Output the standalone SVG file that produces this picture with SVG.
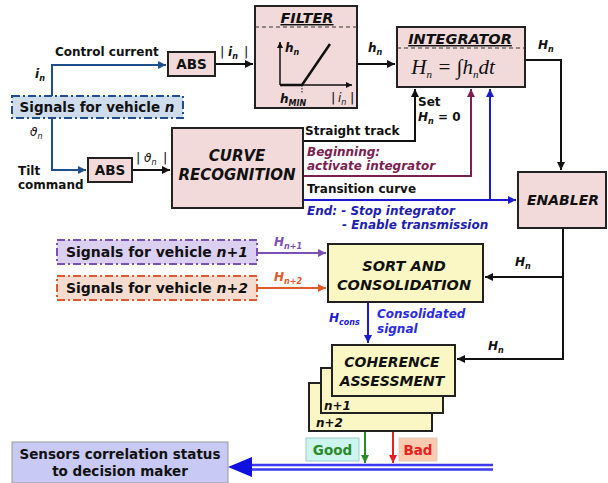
<svg xmlns="http://www.w3.org/2000/svg" width="608" height="483" viewBox="0 0 608 483">
<defs>
<marker id="ak" viewBox="0 0 10 10" refX="10" refY="5" markerWidth="4" markerHeight="4" orient="auto"><path d="M0,0 L10,5 L0,10 z" fill="#111"/></marker>
<marker id="ab" viewBox="0 0 10 10" refX="10" refY="5" markerWidth="4" markerHeight="4" orient="auto"><path d="M0,0 L10,5 L0,10 z" fill="#1f4e8c"/></marker>
<marker id="abl" viewBox="0 0 10 10" refX="10" refY="5" markerWidth="4" markerHeight="4" orient="auto"><path d="M0,0 L10,5 L0,10 z" fill="#1a1ad0"/></marker>
<marker id="am" viewBox="0 0 10 10" refX="10" refY="5" markerWidth="4" markerHeight="4" orient="auto"><path d="M0,0 L10,5 L0,10 z" fill="#7b2050"/></marker>
<marker id="ap" viewBox="0 0 10 10" refX="10" refY="5" markerWidth="4" markerHeight="4" orient="auto"><path d="M0,0 L10,5 L0,10 z" fill="#7d4fb5"/></marker>
<marker id="ao" viewBox="0 0 10 10" refX="10" refY="5" markerWidth="4" markerHeight="4" orient="auto"><path d="M0,0 L10,5 L0,10 z" fill="#e05a28"/></marker>
<marker id="ag" viewBox="0 0 10 10" refX="10" refY="5" markerWidth="4" markerHeight="4" orient="auto"><path d="M0,0 L10,5 L0,10 z" fill="#2a8a2a"/></marker>
<marker id="ar" viewBox="0 0 10 10" refX="10" refY="5" markerWidth="4" markerHeight="4" orient="auto"><path d="M0,0 L10,5 L0,10 z" fill="#e82020"/></marker>
</defs>
<style>
text{font-family:"DejaVu Sans",Verdana,sans-serif;font-weight:bold;fill:#111}
.t{font-size:12px}
.s{font-size:13.5px}
.h{font-size:14.5px;font-style:italic;text-anchor:middle}
.it{font-style:italic}
.c{text-anchor:middle}
.box{fill:#f2dada;stroke:#222;stroke-width:2}
.ybox{fill:#fbf7c4;stroke:#222;stroke-width:2}
.ln{fill:none;stroke:#111;stroke-width:2}
.sub{font-size:8px}
.bar{font-weight:normal;font-size:13px}
</style>
<rect width="608" height="483" fill="#fff"/>

<g id="connectors">
<path class="ln" d="M52,96 V65 H166" style="stroke:#1f4e8c" marker-end="url(#ab)"/>
<path class="ln" d="M52,118 V170 H86" style="stroke:#1f4e8c" marker-end="url(#ab)"/>
<path class="ln" d="M215,64 H253" marker-end="url(#ak)"/>
<path class="ln" d="M357,64 H395" marker-end="url(#ak)"/>
<path class="ln" d="M132,170 H170" marker-end="url(#ak)"/>
<path class="ln" d="M525,60 H561 V170" marker-end="url(#ak)"/>
<path class="ln" d="M303,141 H415 V89" marker-end="url(#ak)"/>
<path class="ln" d="M303,176 H471 V89" style="stroke:#7b2050" marker-end="url(#am)"/>
<path class="ln" d="M303,200 H516" style="stroke:#1a1ad0" marker-end="url(#abl)"/>
<path class="ln" d="M490,200 V89" style="stroke:#1a1ad0" marker-end="url(#abl)"/>
<path class="ln" d="M563,228 V359 H457" marker-end="url(#ak)"/>
<path class="ln" d="M563,277 H485" marker-end="url(#ak)"/>
<path class="ln" d="M257,253 H326" style="stroke:#7d4fb5" marker-end="url(#ap)"/>
<path class="ln" d="M257,288 H326" style="stroke:#e05a28" marker-end="url(#ao)"/>
<path class="ln" d="M368,302 V343" style="stroke:#1a1ad0" marker-end="url(#abl)"/>
<path class="ln" d="M365,396 V463" style="stroke:#2a8a2a" marker-end="url(#ag)"/>
<path class="ln" d="M393,396 V463" style="stroke:#e82020" marker-end="url(#ar)"/>
<path d="M248,465 H493 M248,469.5 H493" fill="none" stroke="#3a3af0" stroke-width="2.5"/>
<path d="M228,467 L252,457 L252,477 z" fill="#1010e0"/>
</g>

<g id="sig-n">
<rect x="12" y="96" width="171" height="22" fill="#cfdcec" stroke="#1f4e8c" stroke-width="2" stroke-dasharray="8,3,2,3"/>
<text class="s c" x="97" y="112">Signals for vehicle <tspan class="it">n</tspan></text>
</g>
<g id="lbl-top">
<text class="t" x="55" y="56">Control current</text>
<text class="t it" x="35" y="78">i<tspan class="sub" dy="3">n</tspan></text>
<text class="t it" x="30" y="136" style="font-weight:normal">ϑ<tspan class="sub" dy="3">n</tspan></text>
<text class="t" x="18" y="175">Tilt</text>
<text class="t" x="18" y="189">command</text>
<text class="bar" x="220" y="56">|</text><text class="t it" x="228" y="56">i<tspan class="sub" dy="3">n</tspan></text><text class="bar" x="244" y="56">|</text>
<text class="bar" x="136" y="162">|</text><text class="t it" x="144" y="162" style="font-weight:normal">ϑ<tspan class="sub" dy="3">n</tspan></text><text class="bar" x="163" y="162">|</text>
<text class="t it" x="368" y="52">h<tspan class="sub" dy="3">n</tspan></text>
<text class="t it" x="538" y="49">H<tspan class="sub" dy="3">n</tspan></text>
</g>
<g id="abs1"><rect class="box" x="168" y="52" width="47" height="24"/><text class="s c" x="191.5" y="69">ABS</text></g>
<g id="abs2"><rect class="box" x="88" y="158" width="44" height="24"/><text class="s c" x="110" y="175">ABS</text></g>

<g id="filter">
<rect class="box" x="255" y="6" width="102" height="102"/>
<line x1="255" y1="27" x2="357" y2="27" stroke="#333" stroke-width="1.2" stroke-dasharray="4,3"/>
<text class="h" x="307" y="23" text-decoration="underline">FILTER</text>
<path d="M280,85 V42" fill="none" stroke="#111" stroke-width="1.5" marker-end="url(#ak)"/>
<path d="M280,85 H352" fill="none" stroke="#111" stroke-width="1.5" marker-end="url(#ak)"/>
<path d="M280,85 H302 L330,44" fill="none" stroke="#111" stroke-width="2.5"/>
<line x1="302" y1="85" x2="302" y2="93" stroke="#111" stroke-width="1" stroke-dasharray="1.5,1.5"/>
<text class="t it" x="285" y="52">h<tspan class="sub" dy="3">n</tspan></text>
<text class="t it" x="280" y="103">h<tspan class="sub" dy="3">MIN</tspan></text>
<text class="bar" x="331" y="102">|</text><text class="t it" x="338" y="102" style="font-weight:normal">i<tspan class="sub" dy="3">n</tspan></text><text class="bar" x="350" y="102">|</text>
</g>

<g id="integrator">
<rect class="box" x="397" y="27" width="128" height="60"/>
<line x1="397" y1="48" x2="525" y2="48" stroke="#333" stroke-width="1.2" stroke-dasharray="4,3"/>
<text class="h" x="460" y="44" text-decoration="underline">INTEGRATOR</text>
<text x="453" y="74" text-anchor="middle" style="font-family:'Liberation Serif','DejaVu Serif',serif;font-weight:normal;font-style:italic;font-size:21px">H<tspan font-size="11" dy="4">n</tspan><tspan dy="-4"> = ∫</tspan><tspan>h</tspan><tspan font-size="11" dy="4">n</tspan><tspan dy="-4">d</tspan><tspan>t</tspan></text>
</g>

<g id="curve">
<rect class="box" x="172" y="128" width="131" height="80"/>
<text class="h" x="237" y="161" style="font-size:15px">CURVE</text>
<text class="h" x="237" y="180" style="font-size:15px">RECOGNITION</text>
</g>
<g id="curve-labels">
<text class="t" x="305" y="135">Straight track</text>
<text class="t" x="418" y="106">Set</text>
<text class="t" x="418" y="121"><tspan class="it">H</tspan><tspan class="sub it" dy="3">n</tspan><tspan dy="-3"> = 0</tspan></text>
<text class="t it" x="307" y="156" style="fill:#7b2050">Beginning:</text>
<text class="t it" x="307" y="170" style="fill:#7b2050">activate integrator</text>
<text class="t" x="307" y="193">Transition curve</text>
<text class="t it" x="307" y="215" style="fill:#2020b0">End:  - Stop integrator</text>
<text class="t it" x="342" y="229" style="fill:#2020b0">- Enable transmission</text>
</g>

<g id="enabler"><rect class="box" x="518" y="172" width="88" height="56"/><text class="h" x="563" y="205" style="font-size:14px">ENABLER</text></g>

<g id="sig-n1">
<rect x="57" y="240" width="200" height="24" fill="#dcd0f2" stroke="#7d4fb5" stroke-width="2" stroke-dasharray="8,3,2,3"/>
<text class="c" x="157" y="257" style="font-size:14px">Signals for vehicle <tspan class="it">n+1</tspan></text>
</g>
<g id="sig-n2">
<rect x="57" y="276" width="200" height="24" fill="#f6dccf" stroke="#e05a28" stroke-width="2" stroke-dasharray="8,3,2,3"/>
<text class="c" x="157" y="293" style="font-size:14px">Signals for vehicle <tspan class="it">n+2</tspan></text>
</g>
<g id="lbl-mid">
<text class="t it" x="274" y="246" style="fill:#7d4fb5">H<tspan class="sub" dy="3">n+1</tspan></text>
<text class="t it" x="274" y="281" style="fill:#e05a28">H<tspan class="sub" dy="3">n+2</tspan></text>
<text class="t it" x="515" y="266">H<tspan class="sub" dy="3">n</tspan></text>
<text class="t it" x="488" y="350">H<tspan class="sub" dy="3">n</tspan></text>
<text class="t it" x="329" y="322" style="fill:#2020d0">H<tspan class="sub" dy="3">cons</tspan></text>
<text class="t it" x="377" y="318" style="fill:#2a2ae0">Consolidated</text>
<text class="t it" x="377" y="333" style="fill:#2a2ae0">signal</text>
</g>

<g id="sort"><rect class="ybox" x="328" y="244" width="155" height="58"/>
<text class="h" x="404" y="271">SORT AND</text>
<text class="h" x="404" y="290">CONSOLIDATION</text></g>

<g id="coherence">
<rect class="ybox" x="309" y="383" width="123" height="48"/>
<rect class="ybox" x="321" y="368" width="122" height="45"/>
<rect class="ybox" x="332" y="345" width="123" height="51"/>
<text class="h" x="392" y="367" style="font-size:14px">COHERENCE</text>
<text class="h" x="392" y="386" style="font-size:14px">ASSESSMENT</text>
<text class="t it" x="324" y="410">n+1</text>
<text class="t it" x="316" y="427">n+2</text>
</g>

<g id="good"><rect x="306" y="438" width="53" height="23" fill="#cdf5ee" stroke="#9cc" stroke-width="1"/><text class="s c" x="332.5" y="455" style="fill:#2a8a2a">Good</text></g>
<g id="bad"><rect x="399" y="438" width="38" height="23" fill="#fbcbb0" stroke="#dcb" stroke-width="1"/><text class="s c" x="418" y="455" style="fill:#e82020">Bad</text></g>

<g id="sensors"><rect x="12" y="442" width="216" height="41" fill="#c9c9f5" stroke="#999" stroke-width="1"/>
<text class="s c" x="120" y="459">Sensors correlation status</text>
<text class="s c" x="120" y="476">to decision maker</text></g>
</svg>
